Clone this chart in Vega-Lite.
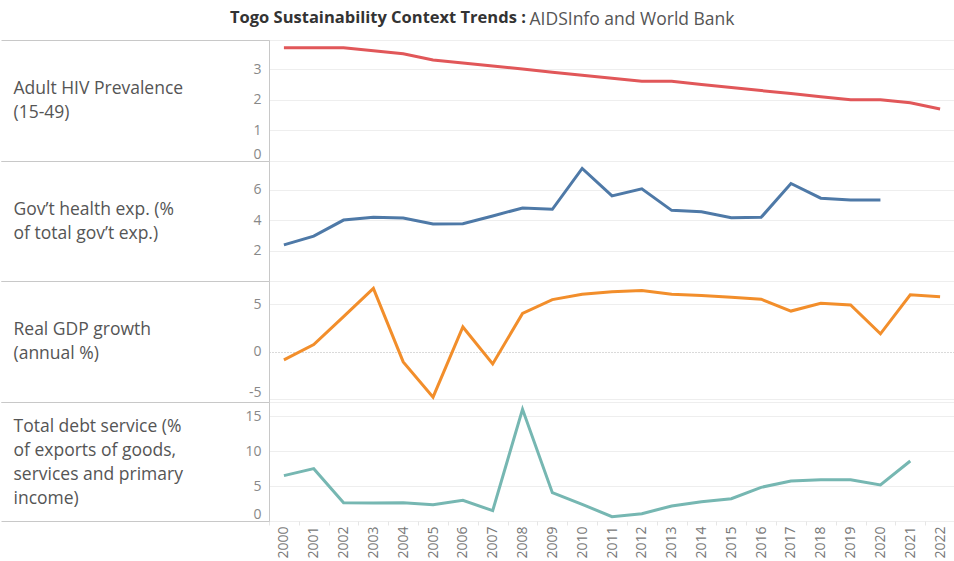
{
  "$schema": "https://vega.github.io/schema/vega-lite/v6.json",
  "padding": {"left": 0, "top": 9, "right": 0, "bottom": 0},
  "background": "white",
  "spacing": 0,
  "bounds": "flush",
  "title": {"text": "Togo Sustainability Context Trends :", "anchor": "start", "dx": 230, "offset": -17, "fontSize": 16.5, "fontWeight": "bold", "color": "#333333", "font": "Open Sans"},
  "config": {
    "font": "Open Sans",
    "view": {"stroke": "#c8c8c8", "strokeWidth": 1},
    "axisY": {"ticks": true, "tickSize": 268, "tickColor": "#c8c8c8", "domainColor": "#c8c8c8", "gridColor": "#eeeeee", "labelColor": "#888888", "labelFontSize": 14, "labelPadding": -260, "labelFlush": 5, "labelOverlap": false, "titleAngle": 0, "titleAlign": "left", "titleBaseline": "middle", "titleX": -256, "titleY": 48, "titleFontSize": 17.5, "titleFontWeight": "normal", "titleColor": "#555555", "titleLineHeight": 24}
  },
  "data": {"values": [
    {"m": "hiv", "year": "2000", "value": 3.7}, {"m": "hiv", "year": "2001", "value": 3.7}, {"m": "hiv", "year": "2002", "value": 3.7}, {"m": "hiv", "year": "2003", "value": 3.6}, {"m": "hiv", "year": "2004", "value": 3.5}, {"m": "hiv", "year": "2005", "value": 3.3}, {"m": "hiv", "year": "2006", "value": 3.2}, {"m": "hiv", "year": "2007", "value": 3.1}, {"m": "hiv", "year": "2008", "value": 3.0}, {"m": "hiv", "year": "2009", "value": 2.9}, {"m": "hiv", "year": "2010", "value": 2.8}, {"m": "hiv", "year": "2011", "value": 2.7}, {"m": "hiv", "year": "2012", "value": 2.6}, {"m": "hiv", "year": "2013", "value": 2.6}, {"m": "hiv", "year": "2014", "value": 2.5}, {"m": "hiv", "year": "2015", "value": 2.4}, {"m": "hiv", "year": "2016", "value": 2.3}, {"m": "hiv", "year": "2017", "value": 2.2}, {"m": "hiv", "year": "2018", "value": 2.1}, {"m": "hiv", "year": "2019", "value": 2.0}, {"m": "hiv", "year": "2020", "value": 2.0}, {"m": "hiv", "year": "2021", "value": 1.9}, {"m": "hiv", "year": "2022", "value": 1.7},
    {"m": "health", "year": "2000", "value": 2.38}, {"m": "health", "year": "2001", "value": 2.95}, {"m": "health", "year": "2002", "value": 4.01}, {"m": "health", "year": "2003", "value": 4.19}, {"m": "health", "year": "2004", "value": 4.14}, {"m": "health", "year": "2005", "value": 3.75}, {"m": "health", "year": "2006", "value": 3.77}, {"m": "health", "year": "2007", "value": 4.28}, {"m": "health", "year": "2008", "value": 4.81}, {"m": "health", "year": "2009", "value": 4.72}, {"m": "health", "year": "2010", "value": 7.41}, {"m": "health", "year": "2011", "value": 5.6}, {"m": "health", "year": "2012", "value": 6.07}, {"m": "health", "year": "2013", "value": 4.65}, {"m": "health", "year": "2014", "value": 4.56}, {"m": "health", "year": "2015", "value": 4.17}, {"m": "health", "year": "2016", "value": 4.19}, {"m": "health", "year": "2017", "value": 6.42}, {"m": "health", "year": "2018", "value": 5.45}, {"m": "health", "year": "2019", "value": 5.34}, {"m": "health", "year": "2020", "value": 5.34},
    {"m": "gdp", "year": "2000", "value": -0.86}, {"m": "gdp", "year": "2001", "value": 0.75}, {"m": "gdp", "year": "2002", "value": 3.71}, {"m": "gdp", "year": "2003", "value": 6.68}, {"m": "gdp", "year": "2004", "value": -1.07}, {"m": "gdp", "year": "2005", "value": -4.79}, {"m": "gdp", "year": "2006", "value": 2.61}, {"m": "gdp", "year": "2007", "value": -1.29}, {"m": "gdp", "year": "2008", "value": 4.04}, {"m": "gdp", "year": "2009", "value": 5.5}, {"m": "gdp", "year": "2010", "value": 6.07}, {"m": "gdp", "year": "2011", "value": 6.32}, {"m": "gdp", "year": "2012", "value": 6.46}, {"m": "gdp", "year": "2013", "value": 6.07}, {"m": "gdp", "year": "2014", "value": 5.93}, {"m": "gdp", "year": "2015", "value": 5.75}, {"m": "gdp", "year": "2016", "value": 5.54}, {"m": "gdp", "year": "2017", "value": 4.29}, {"m": "gdp", "year": "2018", "value": 5.11}, {"m": "gdp", "year": "2019", "value": 4.93}, {"m": "gdp", "year": "2020", "value": 1.89}, {"m": "gdp", "year": "2021", "value": 6.0}, {"m": "gdp", "year": "2022", "value": 5.79},
    {"m": "debt", "year": "2000", "value": 6.48}, {"m": "debt", "year": "2001", "value": 7.48}, {"m": "debt", "year": "2002", "value": 2.62}, {"m": "debt", "year": "2003", "value": 2.57}, {"m": "debt", "year": "2004", "value": 2.62}, {"m": "debt", "year": "2005", "value": 2.33}, {"m": "debt", "year": "2006", "value": 2.95}, {"m": "debt", "year": "2007", "value": 1.48}, {"m": "debt", "year": "2008", "value": 15.95}, {"m": "debt", "year": "2009", "value": 4.05}, {"m": "debt", "year": "2010", "value": 2.38}, {"m": "debt", "year": "2011", "value": 0.62}, {"m": "debt", "year": "2012", "value": 1.05}, {"m": "debt", "year": "2013", "value": 2.14}, {"m": "debt", "year": "2014", "value": 2.76}, {"m": "debt", "year": "2015", "value": 3.19}, {"m": "debt", "year": "2016", "value": 4.81}, {"m": "debt", "year": "2017", "value": 5.71}, {"m": "debt", "year": "2018", "value": 5.9}, {"m": "debt", "year": "2019", "value": 5.9}, {"m": "debt", "year": "2020", "value": 5.14}, {"m": "debt", "year": "2021", "value": 8.57}
  ]},
  "vconcat": [
    {
      "width": 686, "height": 121,
      "transform": [{"filter": "datum.m === 'hiv'"}],
      "mark": {"type": "line", "color": "#e15759", "strokeWidth": 3},
      "encoding": {
        "x": {"field": "year", "type": "ordinal", "bandPosition": 0.5,
              "scale": {"type": "band", "paddingInner": 0, "paddingOuter": 0, "domain": ["2000","2001","2002","2003","2004","2005","2006","2007","2008","2009","2010","2011","2012","2013","2014","2015","2016","2017","2018","2019","2020","2021","2022"]},
              "axis": {"orient": "top", "labels": false, "ticks": false, "domain": false, "grid": false, "title": "AIDSInfo and World Bank", "titleX": 260, "titleY": -16, "titleAlign": "left", "titleBaseline": "alphabetic", "titleFontSize": 17.5, "titleFontWeight": "normal", "titleColor": "#555555"}},
        "y": {"field": "value", "type": "quantitative", "scale": {"domain": [0, 3.95], "nice": false, "zero": false},
              "axis": {"values": [0, 1, 2, 3, 3.95], "labelExpr": "datum.value > 3.9 ? '' : '' + datum.value",
                       "tickOpacity": {"condition": {"test": "datum.value == 0 || datum.value > 3.9", "value": 1}, "value": 0},
                       "title": ["Adult HIV Prevalence", "(15-49)"]}}
      }
    },
    {
      "width": 686, "height": 120,
      "transform": [{"filter": "datum.m === 'health'"}],
      "mark": {"type": "line", "color": "#4e79a7", "strokeWidth": 3},
      "encoding": {
        "x": {"field": "year", "type": "ordinal", "bandPosition": 0.5,
              "scale": {"type": "band", "paddingInner": 0, "paddingOuter": 0, "domain": ["2000","2001","2002","2003","2004","2005","2006","2007","2008","2009","2010","2011","2012","2013","2014","2015","2016","2017","2018","2019","2020","2021","2022"]},
              "axis": null},
        "y": {"field": "value", "type": "quantitative", "scale": {"domain": [0, 7.9], "nice": false, "zero": false},
              "axis": {"values": [0, 2, 4, 6, 7.9], "labelExpr": "datum.value == 0 || datum.value > 7.8 ? '' : '' + datum.value",
                       "tickOpacity": {"condition": {"test": "datum.value == 0 || datum.value > 7.8", "value": 1}, "value": 0},
                       "title": ["Gov’t health exp. (%", "of total gov’t exp.)"]}}
      }
    },
    {
      "width": 686, "height": 121,
      "transform": [{"filter": "datum.m === 'gdp'"}],
      "mark": {"type": "line", "color": "#f28e2b", "strokeWidth": 3},
      "encoding": {
        "x": {"field": "year", "type": "ordinal", "bandPosition": 0.5,
              "scale": {"type": "band", "paddingInner": 0, "paddingOuter": 0, "domain": ["2000","2001","2002","2003","2004","2005","2006","2007","2008","2009","2010","2011","2012","2013","2014","2015","2016","2017","2018","2019","2020","2021","2022"]},
              "axis": null},
        "y": {"field": "value", "type": "quantitative", "scale": {"domain": [-5.3, 7.46], "nice": false, "zero": false},
              "axis": {"values": [-5.3, -5, 0, 5, 7.46], "labelOverlap": false, "labelExpr": "datum.value < -5.2 || datum.value > 7.4 ? '' : '' + datum.value",
                       "tickOpacity": {"condition": {"test": "datum.value < -5.2 || datum.value > 7.4", "value": 1}, "value": 0},
                       "gridColor": {"condition": {"test": "datum.value == 0", "value": "#b4b4b4"}, "value": "#eeeeee"},
                       "gridDash": {"condition": {"test": "datum.value == 0", "value": [1, 2]}, "value": []},
                       "title": ["Real GDP growth", "(annual %)"]}}
      }
    },
    {
      "width": 686, "height": 119,
      "transform": [{"filter": "datum.m === 'debt'"}],
      "mark": {"type": "line", "color": "#76b7b2", "strokeWidth": 3},
      "encoding": {
        "x": {"field": "year", "type": "ordinal", "bandPosition": 0.5,
              "scale": {"type": "band", "paddingInner": 0, "paddingOuter": 0, "domain": ["2000","2001","2002","2003","2004","2005","2006","2007","2008","2009","2010","2011","2012","2013","2014","2015","2016","2017","2018","2019","2020","2021","2022"]},
              "axis": {"orient": "bottom", "title": null, "labelAngle": 270, "labelAlign": "right", "labelBaseline": "middle", "labelFlush": false, "tickBand": "extent", "ticks": true, "tickColor": "#e6e6e6", "tickSize": 4, "domain": false, "grid": false, "labelColor": "#777777", "labelFontSize": 14, "labelPadding": 1}},
        "y": {"field": "value", "type": "quantitative", "scale": {"domain": [0, 17], "nice": false, "zero": false},
              "axis": {"values": [0, 5, 10, 15, 17], "labelExpr": "datum.value > 16.9 ? '' : '' + datum.value",
                       "tickOpacity": {"condition": {"test": "datum.value == 0 || datum.value > 16.9", "value": 1}, "value": 0},
                       "titleY": 24, "title": ["Total debt service (%", "of exports of goods,", "services and primary", "income)"]}}
      }
    }
  ]
}
